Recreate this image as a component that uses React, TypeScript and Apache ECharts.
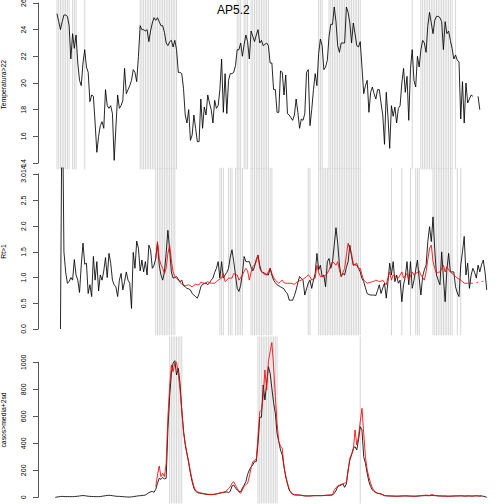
import React, { useEffect, useRef } from "react";
import * as echarts from "echarts";

// ---------- data (weekly index 0..249) ----------
const N = 250;
const weeks: number[] = Array.from({ length: N }, (_, i) => i);

const temperatura: (number | null)[] = [
  null, 25.2, 24.6, 24.0, 24.6, 25.1, 25.1, 25.0, 24.3, 21.8,
  23.7, 22.6, 23.6, 21.5, 20.2, 19.8, 21.5, 22.5, 21.2, 20.8,
  18.6, 19.1, 19.0, 17.0, 14.8, 16.0, 16.8, 17.1, 16.6, 19.5,
  18.3, 18.1, 18.3, 17.7, 14.2, 16.7, 19.1, 18.1, 18.3, 18.7,
  21.1, 19.2, 19.5, 19.8, 20.2, 21.0, 20.8, 20.1, 22.0, 24.3,
  24.0, 24.0, 23.9, 24.0, 23.1, 23.9, 24.5, 24.9, 24.7, 24.9,
  24.6, 24.3, 24.3, 23.8, 23.0, 22.8, 23.1, 23.2, 22.7, 23.2,
  22.5, 20.8, 20.8, 20.7, 19.6, 17.6, 17.0, 18.0, 15.7, 16.1,
  17.6, 16.6, 15.6, 15.6, 18.8, 16.6, 18.2, 17.6, 19.1, 18.5,
  18.0, 17.0, 18.7, 18.1, 18.3, 19.5, 21.8, 17.8, 20.7, 17.7,
  20.2, 20.7, 20.7, 20.8, 21.3, 22.5, 22.5, 23.0, 22.0, 22.9,
  23.6, 23.1, 21.8, 23.9, 23.5, 23.1, 23.6, 24.0, 23.0, 23.2,
  22.8, 22.9, 23.0, 22.8, 21.5, 21.5, 19.5, 19.5, 17.8, 17.8,
  20.9, 20.8, 19.1, 20.6, 17.7, 17.6, 17.4, 17.2, 17.6, 18.8,
  17.8, 16.6, 17.3, 17.2, 17.7, 20.8, 21.0, 16.8, 18.0, 19.5,
  20.7, 19.8, 22.2, 23.3, 22.8, 21.0, 21.2, 21.7, 23.5, 24.4,
  24.4, 25.7, 24.6, 22.8, 22.3, 23.0, 23.0, 23.0, 25.7, 25.3,
  24.5, 23.0, 24.5, 23.7, 22.8, 22.7, 23.1, 21.2, 19.2, 19.8,
  20.2, 17.8, 19.3, 19.7, 19.2, 18.8, 19.5, 19.5, 18.5, 17.6,
  15.4, 19.3, 17.5, 15.1, 18.3, 17.5, 18.2, 17.0, 18.1, 18.3,
  20.0, 21.1, 19.3, 20.5, 17.2, 21.1, 22.5, 20.2, 19.7, 22.0,
  21.2, 22.5, 23.2, 23.0, 22.3, 24.3, 25.3, 24.5, 23.7, 24.7,
  25.0, 25.0, 24.9, 24.6, 22.5, 24.6, 23.7, 23.9, 23.2, 22.6,
  21.8, 22.1, 21.7, 21.6, 17.3, 20.1, 17.0, 20.0, 18.5, 18.8,
  19.1, 19.0, null, null, 19.0, 18.0, null, null, null, null,
];

const rt: (number | null)[] = [
  null, null, null, 0.0, 5.0, 1.50, 1.11, 0.89, 0.92, 1.00,
  0.95, 1.35, 1.05, 0.95, 0.71, 1.24, 1.67, 1.26, 1.28, 0.69,
  0.86, 0.63, 1.41, 0.95, 1.31, 0.74, 1.05, 0.95, 1.13, 1.39,
  1.00, 1.47, 1.28, 0.95, 0.86, 0.82, 0.63, 0.95, 1.08, 0.76,
  0.92, 1.11, 0.95, 0.89, 0.40, 1.49, 1.18, 1.71, 1.57, 1.13,
  1.34, 1.11, 1.31, 1.05, 1.63, 1.54, 1.18, 1.24, 1.37, 1.67,
  1.24, 1.05, 0.95, 1.11, 1.47, 1.92, 1.54, 1.11, 0.99, 1.00,
  1.02, 0.97, 0.92, 0.95, 0.84, 0.82, 0.79, 0.78, 0.76, 0.69,
  0.66, 0.63, 0.60, 0.69, 0.82, 0.87, 0.88, 0.89, 0.86, 0.90,
  0.95, 0.99, 1.10, 1.18, 1.31, 0.99, 1.31, 0.99, 1.05, 1.10,
  1.18, 1.40, 1.54, 1.31, 1.05, 0.79, 0.73, 0.85, 1.08, 1.41,
  1.31, 1.31, 1.31, 1.20, 1.13, 1.21, 1.35, 1.43, 1.24, 1.11,
  1.10, 1.08, 1.06, 1.05, 1.18, 1.05, 0.95, 0.90, 0.86, 0.84,
  0.82, 0.80, 0.78, 0.72, 0.69, 0.56, 0.56, 0.56, 0.65, 0.76,
  0.90, 1.02, 0.98, 0.95, 0.66, 0.78, 0.89, 0.95, 0.79, 0.95,
  1.08, 1.47, 1.15, 1.24, 1.02, 1.05, 0.82, 1.31, 1.37, 1.18,
  1.31, 1.63, 1.97, 1.67, 1.24, 1.02, 1.08, 1.05, 1.20, 1.31,
  1.63, 1.41, 1.24, 1.25, 1.24, 1.18, 1.11, 0.98, 0.92, 0.80,
  0.69, 0.67, 0.66, 0.66, 0.66, 0.65, 0.75, 0.86, 0.69, 0.80,
  0.89, 0.60, 0.92, 1.28, 1.05, 1.31, 0.92, 1.05, 0.89, 0.95,
  0.53, 0.86, 1.02, 1.31, 0.86, 1.31, 0.79, 0.95, 1.15, 1.34,
  0.99, 0.66, 1.02, 1.15, 1.24, 1.70, 1.99, 1.70, 2.18, 1.54,
  1.05, 0.95, 0.86, 1.50, 0.99, 0.53, 1.15, 1.47, 1.11, 1.11,
  1.11, 0.82, 0.70, 0.63, 1.24, 1.50, 1.80, 1.05, 1.28, 0.79,
  1.05, 1.18, 1.10, 0.99, 1.24, 1.11, 1.25, 1.34, 1.11, 0.76,
];

const rtRed: (number | null)[] = [
  ...Array(58).fill(null),
  1.37, 1.70,
  1.37, 1.25, 1.18, 1.08, 1.18, 1.47, 1.63, 1.34, 1.11, 1.02,
  0.99, 0.95, 0.91, 0.87, 0.86, 0.84, 0.85, 0.86, 0.84, 0.82,
  0.85, 0.87, 0.86, 0.86, 0.91, 0.90, 0.89, 0.90, 0.92, 0.90,
  0.89, 0.89, 0.89, 0.92, 0.95, 0.97, 0.99, 1.08, 0.92, 0.95,
  0.99, 0.99, 0.99, 1.08, 1.06, 1.05, 0.95, 1.00, 1.05, 1.12,
  1.18, 1.13, 0.95, 1.10, 1.21, 1.25, 1.31, 1.44, 1.18, 1.12,
  1.08, 1.06, 1.05, 1.12, 1.18, 1.08, 1.00, 0.95, 0.92, 0.89,
  0.92, 0.95, 0.90, 0.89, 0.89, 0.89, 0.89, 0.88, 0.87, 0.90,
  0.92, 0.94, 0.95, 0.97, 0.99, 1.02, 1.05, 1.02, 0.95, 0.97,
  0.99, 1.24, 1.10, 1.02, 1.02, 1.02, 1.05, 1.08, 1.15, 1.24,
  1.31, 1.28, 1.24, 1.31, 1.15, 1.02, 1.10, 1.18, 1.44, 1.67,
  1.55, 1.47, 1.24, 1.26, 1.28, 1.18, 1.18, 1.05, 0.95, 0.92,
  0.89, 0.90, 0.91, 0.92, 0.93, 0.95, 0.94, 0.92, 0.93, 0.95,
  0.90, 0.86, 1.00, 1.11, 0.95, 1.05, 1.03, 1.02, 0.99, 1.05,
  1.11, 0.99, 1.04, 1.08, 0.95, 1.03, 1.11, 1.05, 1.08, 1.10,
  1.13, 1.05, 1.00, 0.95, 1.11, 1.35, 1.57, 1.63, 1.31, 1.18,
  1.08, 1.10, 1.11, 1.18, 1.24, 1.11, 1.21, 1.15, 1.11, 1.08,
  1.05, 1.02, 0.99, 0.97, 0.95, 0.92, 0.89, 0.89, 0.89, 0.89,
  0.89, 0.89, null, 0.90, 0.91, null, 0.92, 0.93, null, null,
];

const casos: (number | null)[] = [
  0, 2, 4, 6, 7, 6, 5, 6, 5, 5,
  5, 6, 7, 8, 10, 12, 13, 12, 10, 8,
  7, 6, 6, 5, 5, 5, 6, 8, 10, 12,
  14, 15, 14, 12, 10, 8, 7, 7, 6, 5,
  4, 3, 2, 2, 3, 5, 7, 9, 11, 12,
  13, 15, 17, 25, 35, 40, 44, 37, 59, 104,
  141, 133, 148, 135, 141, 499, 746, 918, 993, 1012,
  906, 955, 844, 647, 499, 388, 326, 252, 178, 116,
  67, 45, 35, 32, 30, 27, 25, 22, 21, 20,
  20, 20, 22, 25, 28, 32, 34, 35, 38, 40,
  35, 44, 84, 91, 70, 54, 45, 42, 69, 90,
  116, 170, 202, 225, 240, 264, 264, 400, 593, 593,
  832, 721, 844, 968, 918, 807, 700, 622, 474, 412,
  350, 314, 227, 150, 100, 54, 35, 25, 18, 17,
  17, 17, 15, 12, 10, 10, 10, 10, 11, 12,
  12, 12, 12, 12, 12, 13, 14, 15, 15, 16,
  17, 30, 49, 79, 85, 91, 99, 74, 99, 202,
  277, 314, 363, 375, 351, 425, 523, 499, 301, 252,
  178, 116, 79, 55, 42, 35, 30, 28, 25, 18,
  12, 11, 10, 10, 9, 9, 8, 8, 8, 9,
  9, 10, 10, 10, 9, 9, 8, 8, 8, 9,
  10, 11, 12, 12, 13, 12, 12, 14, 15, 12,
  12, 10, 10, 9, 9, 9, 8, 8, 8, 9,
  9, 10, 10, 10, 11, 10, 9, 9, 10, 10,
  9, 9, 10, 11, 10, 9, 10, 8, 5, 0,
];

const casosRed: (number | null)[] = [
  ...Array(58).fill(null),
  80, 165,
  232, 153, 178, 153, 252, 597, 820, 980, 931, 993,
  1000, 918, 795, 647, 480, 400, 320, 264, 190, 128,
  80, 50, 42, 36, 32, 30, 27, 25, 23, 22,
  22, 22, 23, 25, 28, 30, 35, 38, 42, 50,
  65, 79, 105, 116, 90, 67, 40, 30, 55, 79,
  95, 104, 153, 220, 264, 275, 281, 450, 634, 647,
  746, 943, 795, 1005, 1080, 1146, 968, 746, 548, 412,
  380, 363, 227, 160, 104, 60, 35, 25, 20, 18,
  17, 16, 15, 13, 12, 11, 11, 11, 12, 12,
  13, 13, 13, 13, 13, 14, 15, 16, 17, 18,
  20, 54, 70, 85, 91, 95, 100, 105, 110, 200,
  289, 320, 351, 499, 388, 449, 560, 659, 474, 301,
  202, 150, 104, 70, 49, 38, 30, 27, 25, 20,
  14, 12, 11, 11, 10, 10, 9, 9, 9, 10,
  10, 11, 11, 11, 10, 10, 9, 9, 9, 10,
  11, 12, 14, 15, 16, 15, 14, 20, 18, 14,
  13, 11, 11, 10, 10, 10, 9, 9, 9, 10,
  10, 11, 11, 11, 12, 11, 10, 10, 11, 11,
  10, 10, 11, 12, 11, 10, 11, null, null, null,
];

// weeks flagged (runs of week indices, inclusive)
const tempFlagRuns: [number, number][] = [
  [1, 8], [10, 12], [17, 17], [49, 70], [105, 107], [109, 111], [113, 123],
  [152, 154], [158, 176], [206, 206], [211, 229], [231, 231],
];
const rtFlagRuns: [number, number][] = [
  [58, 69], [95, 97], [100, 102], [104, 108], [113, 125], [146, 147], [152, 176],
  [194, 194], [200, 200], [205, 205], [208, 210], [218, 229], [232, 232], [234, 234],
];
const casosFlagRuns: [number, number][] = [[66, 73], [117, 128], [176, 176]];

// tick labels
const tempTicks = [14, 16, 18, 20, 22, 24, 26];
const rtTicks = [0, 0.5, 1, 1.5, 2, 2.5, 3.014];
const rtTickLabels = ["0.0", "0.5", "1.0", "1.5", "2.0", "2.5", "3.014"];
const casosTicks = [0, 200, 400, 600, 800, 1000];

const titleText = "AP5.2";
const yNames = ["Temperatura>22", "Rt>1", "casos>media+2sd"];

// ---------- helpers ----------
const FONT = "Liberation Sans, Arial, Helvetica, sans-serif";
const expandRuns = (runs: [number, number][]) => {
  const out: number[][] = [];
  runs.forEach(([a, b]) => {
    for (let i = a; i <= b; i++) out.push([i, 0]);
  });
  return out;
};
const pairs = (arr: (number | null)[]) => weeks.map((i) => [i, arr[i] == null ? null : arr[i]]);

const XPAD = (N - 1) * 0.04;

function buildOption(): any {
  const g = { containLabel: false, outerBoundsMode: "none" };
  const dataGrids = [
    { ...g, left: 38, top: 0, width: 466, height: 169.4 },
    { ...g, left: 38, top: 167.8, width: 466, height: 167.4 },
    { ...g, left: 38, top: 336.4, width: 466, height: 167.1 },
  ];
  const axisGrids = [
    { ...g, left: 38, top: 3, width: 466, height: 160 },
    { ...g, left: 38, top: 174, width: 466, height: 155 },
    { ...g, left: 38, top: 362.3, width: 466, height: 135 },
  ];
  const dataY = [
    { min: 13.52, max: 26.225 },
    { min: -0.1206, max: 3.1346 },
    { min: -45.8, max: 1191.8 },
  ];

  const xAxis: any[] = [];
  const yAxis: any[] = [];
  for (let k = 0; k < 3; k++) {
    xAxis.push({ type: "value", gridIndex: k, min: -XPAD, max: N - 1 + XPAD, show: false });
    yAxis.push({
      type: "value",
      gridIndex: k,
      min: dataY[k].min,
      max: dataY[k].max,
      axisLine: { show: false },
      axisTick: { show: false },
      axisLabel: { show: false },
      splitLine: { show: false },
      name: yNames[k],
      nameLocation: "middle",
      nameGap: 31,
      nameTextStyle: { fontSize: 6.8, color: "#000", fontFamily: FONT },
    });
  }
  const axisCommon = (gridIndex: number) => ({
    type: "value",
    gridIndex,
    axisLine: { show: true, lineStyle: { color: "#555", width: 1 } },
    splitLine: { show: false },
  });
  const label = (ticks: number[], fmt: (v: number) => string) => ({
    rotate: 90,
    fontSize: 7,
    margin: 11,
    color: "#000",
    fontFamily: FONT,
    customValues: ticks,
    formatter: fmt,
  });
  const tick = (ticks: number[]) => ({
    show: true,
    length: 5,
    lineStyle: { color: "#555", width: 1 },
    customValues: ticks,
  });
  for (let k = 0; k < 3; k++) {
    xAxis.push({ type: "value", gridIndex: 3 + k, min: 0, max: 1, show: false });
  }
  yAxis.push({
    ...axisCommon(3),
    min: 14,
    max: 26,
    interval: 2,
    axisLabel: label(tempTicks, (v) => String(v)),
    axisTick: tick(tempTicks),
  });
  yAxis.push({
    ...axisCommon(4),
    min: 0,
    max: 3.014,
    interval: 0.5,
    axisLabel: label(rtTicks, (v) => {
      const idx = rtTicks.findIndex((t) => Math.abs(t - v) < 1e-6);
      return idx >= 0 ? rtTickLabels[idx] : String(v);
    }),
    axisTick: tick(rtTicks),
  });
  yAxis.push({
    ...axisCommon(5),
    min: 0,
    max: 1000,
    interval: 200,
    axisLabel: label(casosTicks, (v) => String(v)),
    axisTick: tick(casosTicks),
  });

  const vlines = (k: number, runs: [number, number][]) => ({
    type: "custom",
    xAxisIndex: k,
    yAxisIndex: k,
    z: 1,
    silent: true,
    encode: { x: 0, y: 1 },
    data: expandRuns(runs),
    renderItem: (params: any, api: any) => {
      const x = api.coord([api.value(0), 0])[0];
      const cs = params.coordSys;
      return {
        type: "line",
        shape: { x1: x, y1: cs.y, x2: x, y2: cs.y + cs.height },
        style: { stroke: "#d6d6d6", lineWidth: 1 },
      };
    },
  });
  const line = (k: number, arr: (number | null)[], color: string, z: number) => ({
    type: "line",
    xAxisIndex: k,
    yAxisIndex: k,
    data: pairs(arr),
    symbol: "none",
    showSymbol: false,
    connectNulls: false,
    clip: true,
    z,
    silent: true,
    lineStyle: { color, width: 0.85 },
  });

  return {
    animation: false,
    backgroundColor: "#ffffff",
    textStyle: { fontFamily: FONT },
    title: {
      text: titleText,
      left: 217,
      top: 4,
      padding: 0,
      textStyle: { fontSize: 12, fontWeight: "normal", color: "#000", fontFamily: FONT },
    },
    grid: [...dataGrids, ...axisGrids],
    xAxis,
    yAxis,
    series: [
      vlines(0, tempFlagRuns),
      vlines(1, rtFlagRuns),
      vlines(2, casosFlagRuns),
      line(0, temperatura, "#000000", 3),
      line(1, rt, "#000000", 3),
      line(1, rtRed, "#ff0000", 4),
      line(2, casos, "#000000", 3),
      line(2, casosRed, "#ff0000", 4),
    ],
  };
}

export default function App() {
  const ref = useRef<HTMLDivElement>(null);
  useEffect(() => {
    if (!ref.current) return;
    const chart = echarts.init(ref.current, null, { renderer: "svg" });
    chart.setOption(buildOption());
    return () => chart.dispose();
  }, []);
  return (
    <div
      ref={ref}
      style={{ position: "fixed", left: 0, top: 0, width: 504, height: 504, background: "#fff" }}
    />
  );
}
